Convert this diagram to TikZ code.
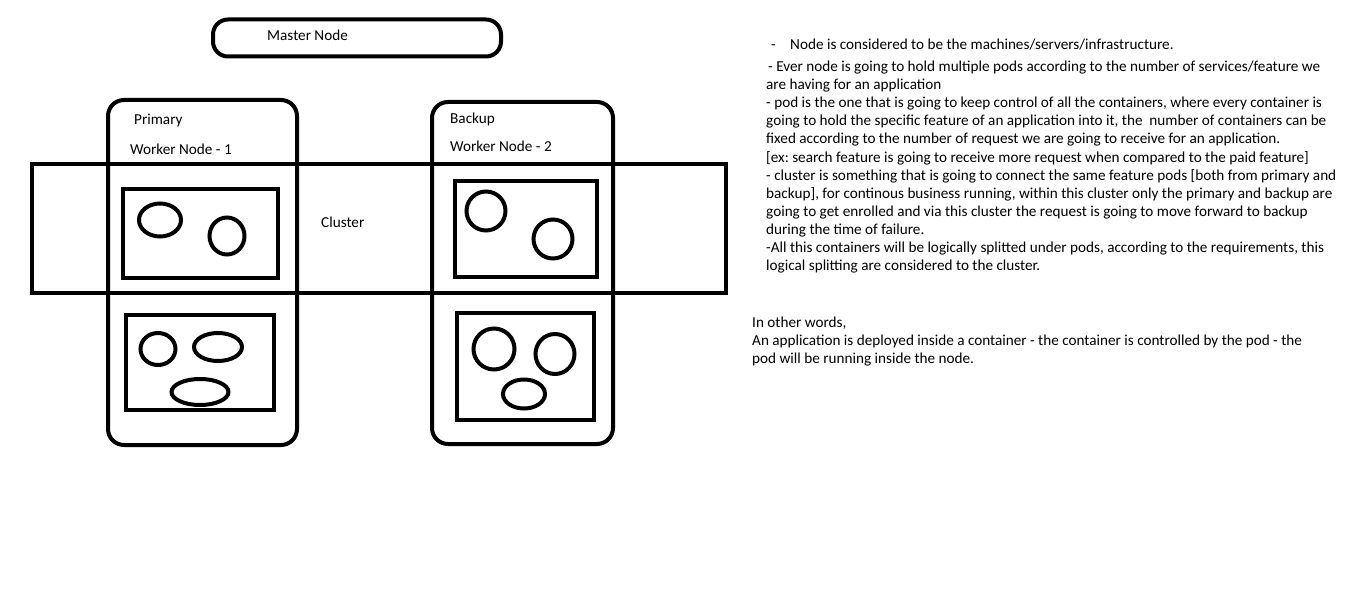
\documentclass[tikz,border=0pt]{standalone}
\usepackage{fontspec}
\setmainfont{Carlito}
\frenchspacing
\usetikzlibrary{shapes.geometric}
\tikzset{
  thick line/.style={line width=4pt},
  podbox/.style={thick line},
  workerbox/.style={thick line, rounded corners=16pt},
  container/.style={draw, thick line, ellipse, inner sep=0pt},
  txt/.style={anchor=base west, inner sep=0pt, font=\fontsize{15.2}{18}\selectfont},
}
\begin{document}
\begin{tikzpicture}[x=1pt,y=-1pt]
  \useasboundingbox (0,0) rectangle (1360,599);
  \fill[white] (0,0) rectangle (1360,599);

  % master, workers and cluster
  \draw[thick line, rounded corners=15pt] (213,19.5) rectangle (501,56.5);
  \node[txt] (master) at (267,41) {Master Node};
  \draw[workerbox] (108,100) rectangle (297,445);
  \draw[workerbox] (432,102) rectangle (613,444);
  \draw[thick line] (32,164) rectangle (726,293);
  \node[txt] (primary) at (134,125) {Primary};
  \node[txt] (worker1) at (130,154) {Worker Node - 1};
  \node[txt] (backup) at (450,124) {Backup};
  \node[txt] (worker2) at (450,152) {Worker Node - 2};
  \node[txt] (cluster) at (321,227) {Cluster};

  % pods
  \draw[podbox] (123,189) rectangle (278,278);
  \draw[podbox] (455,181) rectangle (597,277);
  \draw[podbox] (126,315) rectangle (274,410);
  \draw[podbox] (457,313) rectangle (594,420);

  % containers
  \node[container, minimum width=42, minimum height=33] (c1) at (160,220) {};
  \node[container, minimum width=35, minimum height=37] (c2) at (227,236) {};
  \node[container, minimum width=39, minimum height=39] (c3) at (486,211) {};
  \node[container, minimum width=39, minimum height=39] (c4) at (553,239) {};
  \node[container, minimum width=35, minimum height=32] (c5) at (158,349) {};
  \node[container, minimum width=48, minimum height=28] (c6) at (218,347) {};
  \node[container, minimum width=57, minimum height=26] (c7) at (200,392) {};
  \node[container, minimum width=41, minimum height=41] (c8) at (494,349) {};
  \node[container, minimum width=39, minimum height=40] (c9) at (555,354) {};
  \node[container, minimum width=42, minimum height=29] (c10) at (524,394) {};

  % notes
  \node[txt] (dash) at (771,50) {-};
  \node[txt] (n1) at (790,50) {Node is considered to be the machines/servers/infrastructure.};
  \node[txt] (n2) at (768,72) {- Ever node is going to hold multiple pods according to the number of services/feature we};
  \node[txt] (n3) at (766,90) {are having for an application};
  \node[txt] (n4) at (766,108) {- pod is the one that is going to keep control of all the containers, where every container is};
  \node[txt] (n5) at (766,126) {going to hold the specific feature of an application into it, the\ \ number of containers can be};
  \node[txt] (n6) at (766,144) {fixed according to the number of request we are going to receive for an application.};
  \node[txt] (n7) at (766,162) {[ex: search feature is going to receive more request when compared to the paid feature]};
  \node[txt] (n8) at (766,180) {- cluster is something that is going to connect the same feature pods [both from primary and};
  \node[txt] (n9) at (766,198) {backup], for continous business running, within this cluster only the primary and backup are};
  \node[txt] (n10) at (766,216) {going to get enrolled and via this cluster the request is going to move forward to backup};
  \node[txt] (n11) at (766,234) {during the time of failure.};
  \node[txt] (n12) at (766,252) {-All this containers will be logically splitted under pods, according to the requirements, this};
  \node[txt] (n13) at (766,270) {logical splitting are considered to the cluster.};
  \node[txt] (w1) at (752,327) {In other words,};
  \node[txt] (w2) at (752,345) {An application is deployed inside a container - the container is controlled by the pod - the};
  \node[txt] (w3) at (752,363) {pod will be running inside the node.};
\end{tikzpicture}
\end{document}
